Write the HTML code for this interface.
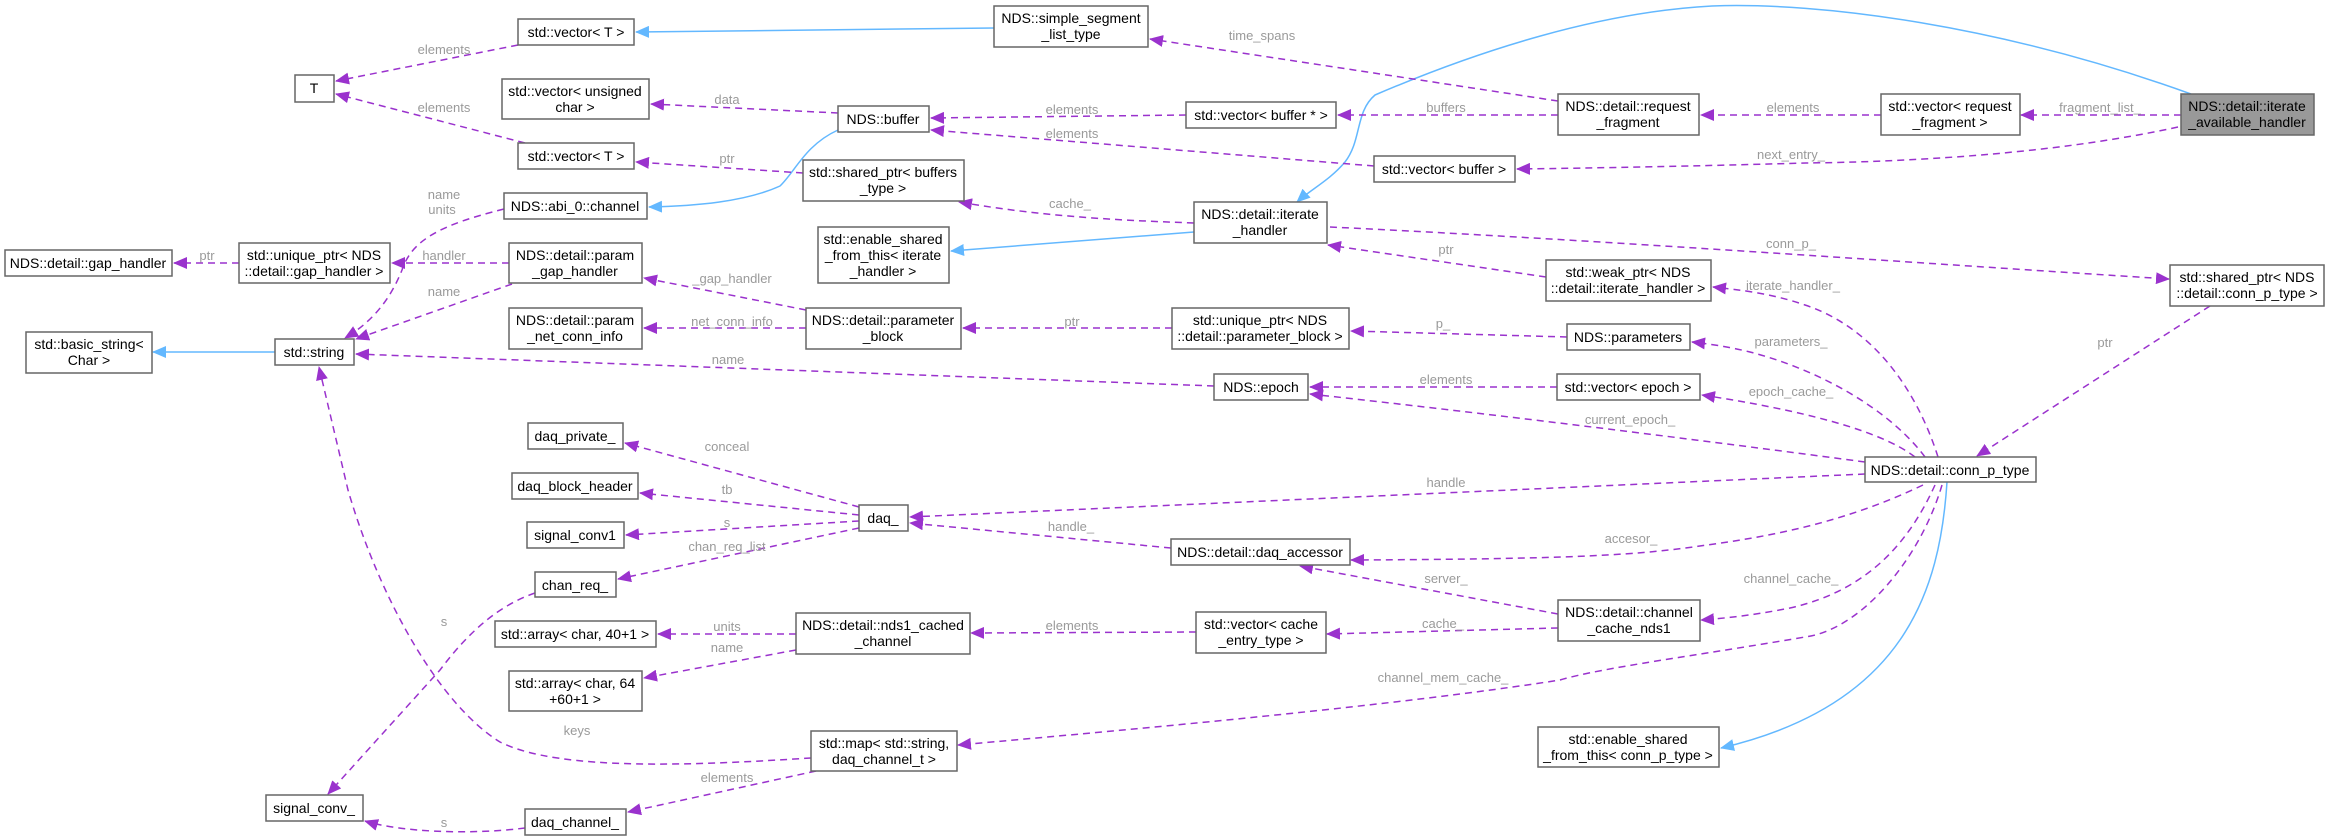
<!DOCTYPE html>
<html><head><meta charset="utf-8"><style>
html,body{margin:0;padding:0;background:#fff;}
svg{display:block;}
.n rect{fill:#fff;stroke:#666;stroke-width:1.5;}
.n text{font-family:"Liberation Sans",sans-serif;font-size:14px;fill:#000;text-anchor:middle;}
.e{fill:none;stroke:#9a32cd;stroke-width:1.5;stroke-dasharray:7,5;}
.b{fill:none;stroke:#63b8ff;stroke-width:1.5;}
.l{font-family:"Liberation Sans",sans-serif;font-size:13px;fill:#9a9a9a;text-anchor:middle;}
</style></head><body>
<svg width="2330" height="840" viewBox="0 0 2330 840" xmlns="http://www.w3.org/2000/svg">
<defs>
<marker id="p" markerWidth="14" markerHeight="12" refX="13" refY="6" orient="auto" markerUnits="userSpaceOnUse"><path d="M0,0 L14,6 L0,12 z" fill="#9a32cd"/></marker>
<marker id="q" markerWidth="14" markerHeight="12" refX="13" refY="6" orient="auto" markerUnits="userSpaceOnUse"><path d="M0,0 L14,6 L0,12 z" fill="#63b8ff"/></marker>
</defs>

<!-- blue edges -->
<path class="b" marker-end="url(#q)" d="M994 28 L636 32"/>
<path class="b" marker-end="url(#q)" d="M838 130 C805 145,795 172,780 186 C745 202,695 206,649 207"/>
<path class="b" marker-end="url(#q)" d="M2191 94 C2000 25,1820 2,1712 6 C1600 12,1480 50,1375 95 C1355 112,1362 140,1345 162 C1330 180,1310 190,1297 202"/>
<path class="b" marker-end="url(#q)" d="M1194 232 L951 251"/>
<path class="b" marker-end="url(#q)" d="M275 352 L153 352"/>
<path class="b" marker-end="url(#q)" d="M1947 482 C1940 590,1905 705,1721 748"/>

<!-- purple edges -->
<path class="e" marker-end="url(#p)" d="M518 45 L336 81"/>
<path class="e" marker-end="url(#p)" d="M525 143 L336 94"/>
<path class="e" marker-end="url(#p)" d="M838 113 L651 104"/>
<path class="e" marker-end="url(#p)" d="M803 173 L636 162"/>
<path class="e" marker-end="url(#p)" d="M504 209 C440 225,412 240,402 270 C390 300,372 322,345 338"/>
<path class="e" marker-end="url(#p)" d="M239 263 L174 263"/>
<path class="e" marker-end="url(#p)" d="M509 263 L392 263"/>
<path class="e" marker-end="url(#p)" d="M512 284 L356 339"/>
<path class="e" marker-end="url(#p)" d="M806 310 L644 278"/>
<path class="e" marker-end="url(#p)" d="M806 328 L644 328"/>
<path class="e" marker-end="url(#p)" d="M1214 386 L356 354"/>
<path class="e" marker-end="url(#p)" d="M1186 115 L931 118"/>
<path class="e" marker-end="url(#p)" d="M1374 166 L931 130"/>
<path class="e" marker-end="url(#p)" d="M1194 223 C1110 220,1040 216,959 202"/>
<path class="e" marker-end="url(#p)" d="M1172 328 L963 328"/>
<path class="e" marker-end="url(#p)" d="M1546 277 L1328 245"/>
<path class="e" marker-end="url(#p)" d="M1567 337 L1351 331"/>
<path class="e" marker-end="url(#p)" d="M1557 387 L1310 387"/>
<path class="e" marker-end="url(#p)" d="M1558 101 L1150 39"/>
<path class="e" marker-end="url(#p)" d="M1558 115 L1338 115"/>
<path class="e" marker-end="url(#p)" d="M1881 115 L1701 115"/>
<path class="e" marker-end="url(#p)" d="M2181 115 L2021 115"/>
<path class="e" marker-end="url(#p)" d="M2178 127 C2050 155,1900 162,1806 163 C1700 166,1600 168,1517 169"/>
<path class="e" marker-end="url(#p)" d="M1330 227 C1600 240,1900 262,2169 279"/>
<path class="e" marker-end="url(#p)" d="M2210 306 L1977 456"/>
<path class="e" marker-end="url(#p)" d="M1938 457 C1920 400,1880 330,1805 305 C1770 293,1740 290,1713 287"/>
<path class="e" marker-end="url(#p)" d="M1925 457 C1890 410,1820 370,1750 352 C1730 347,1710 344,1692 342"/>
<path class="e" marker-end="url(#p)" d="M1915 457 C1880 430,1800 410,1702 395"/>
<path class="e" marker-end="url(#p)" d="M1865 462 C1700 440,1500 415,1310 394"/>
<path class="e" marker-end="url(#p)" d="M1865 474 L910 517"/>
<path class="e" marker-end="url(#p)" d="M1923 485 C1850 520,1780 535,1707 545 C1640 555,1580 559,1351 560"/>
<path class="e" marker-end="url(#p)" d="M1935 485 C1910 540,1870 590,1790 608 C1760 614,1730 618,1701 620"/>
<path class="e" marker-end="url(#p)" d="M1942 485 C1920 560,1860 630,1805 637 C1700 655,1600 668,1560 680 C1400 705,1150 728,958 745"/>
<path class="e" marker-end="url(#p)" d="M1171 548 L910 523"/>
<path class="e" marker-end="url(#p)" d="M1558 614 L1300 566"/>
<path class="e" marker-end="url(#p)" d="M1558 628 L1327 634"/>
<path class="e" marker-end="url(#p)" d="M1196 632 L971 633"/>
<path class="e" marker-end="url(#p)" d="M859 507 L625 443"/>
<path class="e" marker-end="url(#p)" d="M859 515 L640 493"/>
<path class="e" marker-end="url(#p)" d="M859 521 L626 535"/>
<path class="e" marker-end="url(#p)" d="M859 528 L618 579"/>
<path class="e" marker-end="url(#p)" d="M796 634 L658 634"/>
<path class="e" marker-end="url(#p)" d="M796 650 L644 678"/>
<path class="e" marker-end="url(#p)" d="M535 593 C500 605,470 630,440 670 L328 794"/>
<path class="e" marker-end="url(#p)" d="M811 758 C700 765,560 772,500 742 C440 705,380 600,348 490 L319 367"/>
<path class="e" marker-end="url(#p)" d="M816 771 L628 812"/>
<path class="e" marker-end="url(#p)" d="M525 828 C470 835,400 832,365 821"/>

<!-- labels -->
<g class="l">
<text x="444" y="54">elements</text>
<text x="444" y="112">elements</text>
<text x="727" y="104">data</text>
<text x="727" y="163">ptr</text>
<text x="444" y="199">name</text>
<text x="442" y="214">units</text>
<text x="207" y="260">ptr</text>
<text x="444" y="260">handler</text>
<text x="444" y="296">name</text>
<text x="732" y="283">_gap_handler</text>
<text x="732" y="326">net_conn_info</text>
<text x="728" y="364">name</text>
<text x="1072" y="114">elements</text>
<text x="1072" y="138">elements</text>
<text x="1070" y="208">cache_</text>
<text x="1072" y="326">ptr</text>
<text x="1446" y="254">ptr</text>
<text x="1443" y="328">p_</text>
<text x="1446" y="384">elements</text>
<text x="1262" y="40">time_spans</text>
<text x="1446" y="112">buffers</text>
<text x="1793" y="112">elements</text>
<text x="2100" y="112">fragment_list_</text>
<text x="1791" y="159">next_entry_</text>
<text x="1791" y="248">conn_p_</text>
<text x="2105" y="347">ptr</text>
<text x="1793" y="290">iterate_handler_</text>
<text x="1791" y="346">parameters_</text>
<text x="1791" y="396">epoch_cache_</text>
<text x="1630" y="424">current_epoch_</text>
<text x="1446" y="487">handle</text>
<text x="1631" y="543">accesor_</text>
<text x="1791" y="583">channel_cache_</text>
<text x="1443" y="682">channel_mem_cache_</text>
<text x="1071" y="531">handle_</text>
<text x="1446" y="583">server_</text>
<text x="1443" y="628">cache_</text>
<text x="1072" y="630">elements</text>
<text x="727" y="451">conceal</text>
<text x="727" y="494">tb</text>
<text x="727" y="527">s</text>
<text x="727" y="551">chan_req_list</text>
<text x="727" y="631">units</text>
<text x="727" y="652">name</text>
<text x="444" y="626">s</text>
<text x="577" y="735">keys</text>
<text x="727" y="782">elements</text>
<text x="444" y="827">s</text>
</g>

<!-- nodes -->
<g class="n">
<rect x="518" y="19" width="116" height="26"/><text x="576" y="37">std::vector&lt; T &gt;</text>
<rect x="295" y="75" width="39" height="27"/><text x="314" y="93">T</text>
<rect x="502" y="79" width="147" height="40"/><text x="575" y="96">std::vector&lt; unsigned</text><text x="575" y="112">char &gt;</text>
<rect x="518" y="143" width="116" height="26"/><text x="576" y="161">std::vector&lt; T &gt;</text>
<rect x="504" y="193" width="143" height="26"/><text x="575" y="211">NDS::abi_0::channel</text>
<rect x="5" y="250" width="167" height="26"/><text x="88" y="268">NDS::detail::gap_handler</text>
<rect x="239" y="243" width="151" height="40"/><text x="314" y="260">std::unique_ptr&lt; NDS</text><text x="314" y="276">::detail::gap_handler &gt;</text>
<rect x="509" y="243" width="133" height="40"/><text x="575" y="260">NDS::detail::param</text><text x="575" y="276">_gap_handler</text>
<rect x="26" y="332" width="126" height="41"/><text x="89" y="349">std::basic_string&lt;</text><text x="89" y="365">Char &gt;</text>
<rect x="275" y="339" width="79" height="26"/><text x="314" y="357">std::string</text>
<rect x="509" y="308" width="133" height="41"/><text x="575" y="325">NDS::detail::param</text><text x="575" y="341">_net_conn_info</text>
<rect x="994" y="6" width="154" height="41"/><text x="1071" y="23">NDS::simple_segment</text><text x="1071" y="39">_list_type</text>
<rect x="838" y="106" width="91" height="26"/><text x="883" y="124">NDS::buffer</text>
<rect x="803" y="160" width="161" height="41"/><text x="883" y="177">std::shared_ptr&lt; buffers</text><text x="883" y="193">_type &gt;</text>
<rect x="818" y="227" width="131" height="56"/><text x="883" y="244">std::enable_shared</text><text x="883" y="260">_from_this&lt; iterate</text><text x="883" y="276">_handler &gt;</text>
<rect x="1194" y="202" width="133" height="41"/><text x="1260" y="219">NDS::detail::iterate</text><text x="1260" y="235">_handler</text>
<rect x="1186" y="102" width="150" height="26"/><text x="1261" y="120">std::vector&lt; buffer * &gt;</text>
<rect x="1374" y="156" width="141" height="26"/><text x="1444" y="174">std::vector&lt; buffer &gt;</text>
<rect x="806" y="308" width="155" height="41"/><text x="883" y="325">NDS::detail::parameter</text><text x="883" y="341">_block</text>
<rect x="1172" y="308" width="177" height="41"/><text x="1260" y="325">std::unique_ptr&lt; NDS</text><text x="1260" y="341">::detail::parameter_block &gt;</text>
<rect x="1214" y="374" width="94" height="26"/><text x="1261" y="392">NDS::epoch</text>
<rect x="1558" y="94" width="141" height="41"/><text x="1628" y="111">NDS::detail::request</text><text x="1628" y="127">_fragment</text>
<rect x="1881" y="94" width="139" height="41"/><text x="1950" y="111">std::vector&lt; request</text><text x="1950" y="127">_fragment &gt;</text>
<rect x="2181" y="94" width="133" height="41" style="fill:#999"/><text x="2247" y="111">NDS::detail::iterate</text><text x="2247" y="127">_available_handler</text>
<rect x="1546" y="260" width="165" height="41"/><text x="1628" y="277">std::weak_ptr&lt; NDS</text><text x="1628" y="293">::detail::iterate_handler &gt;</text>
<rect x="2170" y="265" width="154" height="41"/><text x="2247" y="282">std::shared_ptr&lt; NDS</text><text x="2247" y="298">::detail::conn_p_type &gt;</text>
<rect x="1567" y="324" width="123" height="26"/><text x="1628" y="342">NDS::parameters</text>
<rect x="1557" y="374" width="143" height="26"/><text x="1628" y="392">std::vector&lt; epoch &gt;</text>
<rect x="528" y="423" width="95" height="26"/><text x="575" y="441">daq_private_</text>
<rect x="512" y="473" width="126" height="26"/><text x="575" y="491">daq_block_header</text>
<rect x="527" y="522" width="97" height="26"/><text x="575" y="540">signal_conv1</text>
<rect x="535" y="572" width="81" height="25"/><text x="575" y="590">chan_req_</text>
<rect x="495" y="621" width="161" height="26"/><text x="575" y="639">std::array&lt; char, 40+1 &gt;</text>
<rect x="509" y="671" width="133" height="40"/><text x="575" y="688">std::array&lt; char, 64</text><text x="575" y="704">+60+1 &gt;</text>
<rect x="266" y="795" width="97" height="26"/><text x="314" y="813">signal_conv_</text>
<rect x="525" y="809" width="101" height="26"/><text x="575" y="827">daq_channel_</text>
<rect x="859" y="505" width="49" height="26"/><text x="883" y="523">daq_</text>
<rect x="1171" y="539" width="179" height="26"/><text x="1260" y="557">NDS::detail::daq_accessor</text>
<rect x="796" y="613" width="174" height="41"/><text x="883" y="630">NDS::detail::nds1_cached</text><text x="883" y="646">_channel</text>
<rect x="1196" y="612" width="130" height="41"/><text x="1261" y="629">std::vector&lt; cache</text><text x="1261" y="645">_entry_type &gt;</text>
<rect x="811" y="731" width="146" height="40"/><text x="884" y="748">std::map&lt; std::string,</text><text x="884" y="764">daq_channel_t &gt;</text>
<rect x="1558" y="600" width="142" height="41"/><text x="1629" y="617">NDS::detail::channel</text><text x="1629" y="633">_cache_nds1</text>
<rect x="1538" y="727" width="181" height="40"/><text x="1628" y="744">std::enable_shared</text><text x="1628" y="760">_from_this&lt; conn_p_type &gt;</text>
<rect x="1865" y="457" width="171" height="25"/><text x="1950" y="475">NDS::detail::conn_p_type</text>
</g>
</svg>
</body></html>
